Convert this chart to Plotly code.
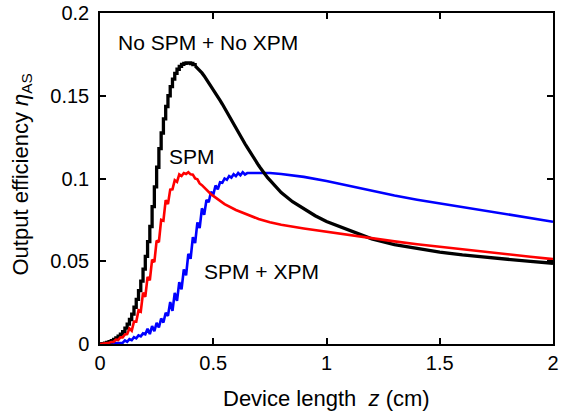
import plotly.graph_objects as go

# ---- data ----
black_x = [0.00, 0.01, 0.02, 0.03, 0.04, 0.05, 0.06, 0.07, 0.08, 0.09,
           0.10, 0.11, 0.12, 0.13, 0.14, 0.15, 0.16, 0.17, 0.18, 0.19,
           0.20, 0.21, 0.22, 0.23, 0.24, 0.25, 0.26, 0.27, 0.28, 0.29,
           0.30, 0.31, 0.32, 0.33, 0.34, 0.35, 0.36, 0.37, 0.38, 0.39,
           0.40, 0.41, 0.42, 0.43, 0.44, 0.45, 0.46, 0.47, 0.48, 0.49,
           0.50, 0.51, 0.52, 0.53, 0.54, 0.55, 0.56, 0.57, 0.58, 0.59,
           0.60, 0.61, 0.62, 0.63, 0.64, 0.65, 0.66, 0.67, 0.68, 0.69,
           0.70, 0.71, 0.72, 0.73, 0.74, 0.75, 0.76, 0.77, 0.78, 0.79,
           0.80, 0.85, 0.90, 0.95, 1.00, 1.10, 1.20, 1.30, 1.40, 1.50,
           1.60, 1.70, 1.80, 1.90, 2.00]
black_y = [0.0000, 0.0002, 0.0005, 0.0009, 0.0014, 0.0020, 0.0028, 0.0037, 0.0048, 0.0060,
           0.0075, 0.0096, 0.0120, 0.0148, 0.0180, 0.0222, 0.0270, 0.0322, 0.0380, 0.0452,
           0.0530, 0.0618, 0.0710, 0.0830, 0.0950, 0.1068, 0.1180, 0.1275, 0.1360, 0.1435,
           0.1500, 0.1555, 0.1600, 0.1635, 0.1660, 0.1678, 0.1690, 0.1696, 0.1698, 0.1698,
           0.1695, 0.1688, 0.1680, 0.1668, 0.1655, 0.1638, 0.1620, 0.1600, 0.1580, 0.1560,
           0.1540, 0.1518, 0.1495, 0.1472, 0.1450, 0.1425, 0.1400, 0.1375, 0.1350, 0.1325,
           0.1300, 0.1278, 0.1255, 0.1232, 0.1210, 0.1188, 0.1165, 0.1142, 0.1120, 0.1100,
           0.1080, 0.1060, 0.1040, 0.1022, 0.1005, 0.0990, 0.0975, 0.0960, 0.0945, 0.0930,
           0.0915, 0.0860, 0.0815, 0.0775, 0.0740, 0.0685, 0.0635, 0.0600, 0.0575, 0.0555,
           0.0538, 0.0524, 0.0511, 0.0499, 0.0488]

red_x = [0.00, 0.01, 0.02, 0.03, 0.04, 0.05, 0.06, 0.07, 0.08, 0.09,
         0.10, 0.11, 0.12, 0.13, 0.14, 0.15, 0.16, 0.17, 0.18, 0.19,
         0.20, 0.21, 0.22, 0.23, 0.24, 0.25, 0.26, 0.27, 0.28, 0.29,
         0.30, 0.31, 0.32, 0.33, 0.34, 0.35, 0.36, 0.37, 0.38, 0.39,
         0.40, 0.41, 0.42, 0.43, 0.44, 0.45, 0.46, 0.47, 0.48, 0.49,
         0.50, 0.55, 0.60, 0.65, 0.70, 0.75, 0.80, 0.90, 1.00, 1.10,
         1.20, 1.30, 1.40, 1.50, 1.60, 1.70, 1.80, 1.90, 2.00]
red_y = [0.0000, 0.0001, 0.0003, 0.0005, 0.0008, 0.0012, 0.0012, 0.0026, 0.0024, 0.0040,
         0.0040, 0.0058, 0.0060, 0.0093, 0.0080, 0.0135, 0.0135, 0.0203, 0.0195, 0.0310,
         0.0285, 0.0405, 0.0385, 0.0510, 0.0495, 0.0625, 0.0615, 0.0750, 0.0745, 0.0870,
         0.0845, 0.0933, 0.0935, 0.0990, 0.0980, 0.1025, 0.1015, 0.1033, 0.1027, 0.1038,
         0.1025, 0.1023, 0.1000, 0.0995, 0.0970, 0.0960, 0.0945, 0.0930, 0.0915, 0.0905,
         0.0895, 0.0845, 0.0810, 0.0780, 0.0755, 0.0736, 0.0720, 0.0698, 0.0678, 0.0658,
         0.0638, 0.0620, 0.0603, 0.0587, 0.0571, 0.0556, 0.0541, 0.0527, 0.0513]

blue_x = [0.00, 0.02, 0.04, 0.06, 0.08,
          0.10, 0.11, 0.12, 0.13, 0.14, 0.15, 0.16, 0.17, 0.18, 0.19,
          0.20, 0.21, 0.22, 0.23, 0.24, 0.25, 0.26, 0.27, 0.28, 0.29,
          0.30, 0.31, 0.32, 0.33, 0.34, 0.35, 0.36, 0.37, 0.38, 0.39,
          0.40, 0.41, 0.42, 0.43, 0.44, 0.45, 0.46, 0.47, 0.48, 0.49,
          0.50, 0.51, 0.52, 0.53, 0.54, 0.55, 0.56, 0.57, 0.58, 0.59,
          0.60, 0.61, 0.62, 0.63, 0.64, 0.65, 0.70, 0.75, 0.80, 0.90,
          1.00, 1.10, 1.20, 1.30, 1.40, 1.50, 1.60, 1.70, 1.80, 1.90, 2.00]
blue_y = [0.0000, 0.0001, 0.0003, 0.0005, 0.0008,
          0.0007, 0.0022, 0.0013, 0.0029, 0.0023, 0.0041, 0.0034, 0.0052, 0.0046, 0.0064,
          0.0059, 0.0092, 0.0060, 0.0108, 0.0077, 0.0128, 0.0100, 0.0154, 0.0130, 0.0189,
          0.0170, 0.0254, 0.0200, 0.0309, 0.0260, 0.0374, 0.0330, 0.0450, 0.0415, 0.0545,
          0.0515, 0.0645, 0.0610, 0.0735, 0.0700, 0.0820, 0.0780, 0.0870, 0.0857, 0.0920,
          0.0900, 0.0958, 0.0935, 0.0977, 0.0974, 0.1000, 0.0992, 0.1015, 0.1005, 0.1026,
          0.1014, 0.1033, 0.1020, 0.1038, 0.1024, 0.1033, 0.1035, 0.1033, 0.1027, 0.1010,
          0.0985, 0.0955, 0.0925, 0.0897, 0.0872, 0.0850, 0.0828, 0.0806, 0.0784, 0.0761, 0.0739]

x_ticks = [0, 0.5, 1, 1.5, 2]
x_tick_labels = ["0", "0.5", "1", "1.5", "2"]
y_ticks = [0, 0.05, 0.1, 0.15, 0.2]
y_tick_labels = ["0", "0.05", "0.1", "0.15", "0.2"]

labels = ["No SPM + No XPM", "SPM", "SPM + XPM"]
label_x = [0.07, 0.296, 0.451]
label_y = [0.182, 0.113, 0.044]

FONT = "Liberation Sans, Arial, sans-serif"
X_RANGE = [0, 2]
Y_RANGE = [0, 0.2]

fig = go.Figure()

fig.add_trace(go.Scatter(x=blue_x, y=blue_y, mode="lines",
                         line=dict(color="#0000ff", width=2.6), showlegend=False))

# black: stepped ripple on the rise, then smooth
split = black_x.index(0.42) + 1
fig.add_trace(go.Scatter(x=black_x[:split], y=black_y[:split], mode="lines",
                         line=dict(color="#000000", width=3.3, shape="hv"), showlegend=False))
fig.add_trace(go.Scatter(x=black_x[split - 1:], y=black_y[split - 1:], mode="lines",
                         line=dict(color="#000000", width=3.3), showlegend=False))

fig.add_trace(go.Scatter(x=red_x, y=red_y, mode="lines",
                         line=dict(color="#ff0000", width=2.6), showlegend=False))

for t, lx, ly in zip(labels, label_x, label_y):
    fig.add_annotation(x=lx, y=ly, text=t, showarrow=False, xanchor="left", yanchor="middle",
                       font=dict(family=FONT, size=21, color="black"))

# axis titles
fig.add_annotation(xref="paper", yref="paper", x=0.5, y=0, yshift=-54,
                   xanchor="center", yanchor="middle", showarrow=False,
                   text="Device length  <i>z</i> (cm)",
                   font=dict(family=FONT, size=22, color="black"))
fig.add_annotation(xref="paper", yref="paper", x=0, y=0.5, xshift=-79, yshift=4,
                   xanchor="center", yanchor="middle", showarrow=False, textangle=-90,
                   text="Output efficiency <i>η</i><sub>AS</sub>",
                   font=dict(family=FONT, size=22, color="black"))

axis_common = dict(showline=True, linecolor="black", linewidth=1.5, mirror="ticks",
                   ticks="inside", ticklen=6, tickwidth=1.5, tickcolor="black",
                   showgrid=False, zeroline=False, automargin=False,
                   tickfont=dict(family=FONT, size=20, color="black"))

fig.update_xaxes(range=X_RANGE, tickvals=x_ticks, ticktext=x_tick_labels,
                 ticklabelstandoff=0, **axis_common)
fig.update_yaxes(range=Y_RANGE, tickvals=y_ticks, ticktext=y_tick_labels,
                 ticklabelstandoff=5, **axis_common)

fig.update_layout(width=561, height=420,
                  margin=dict(l=100, r=8, t=13, b=76),
                  paper_bgcolor="white", plot_bgcolor="white",
                  font=dict(family=FONT, size=20, color="black"))

fig.write_html("out.html", config={"displayModeBar": False},
               post_script="document.body.style.margin='0px';document.body.style.overflow='hidden';")
